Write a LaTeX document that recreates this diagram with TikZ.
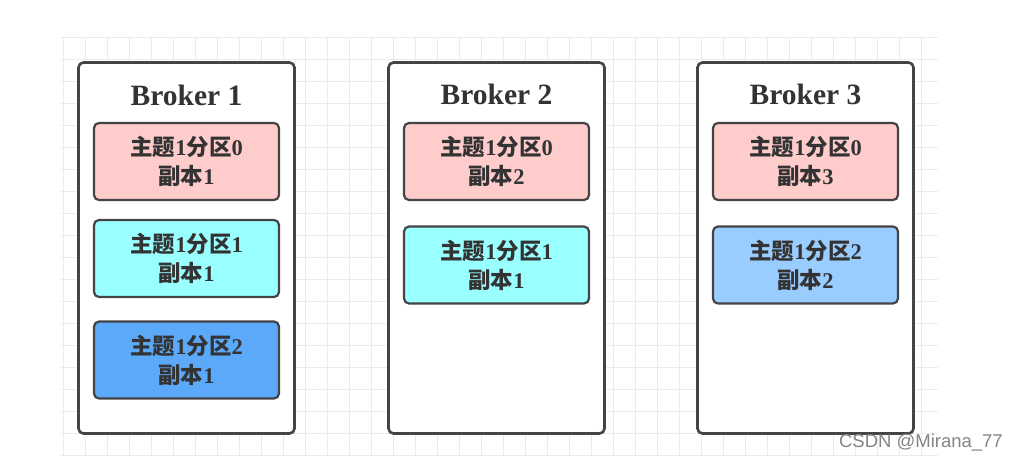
\documentclass[tikz,border=0pt]{standalone}
\usepackage{fontspec}
\setmainfont{Liberation Serif}
\setsansfont{Liberation Sans}
\newfontfamily\cjk{Noto Sans CJK SC}
\definecolor{gridc}{HTML}{EBEBEB}
\definecolor{edgec}{HTML}{444444}
\definecolor{txtc}{HTML}{333333}
\definecolor{pinkc}{HTML}{FFCCCC}
\definecolor{cyanc}{HTML}{99FFFF}
\definecolor{bluec}{HTML}{5CA9FA}
\definecolor{lbluec}{HTML}{99CCFF}
\newcommand\ptext[2]{{\cjk 主题}1{\cjk 分区}#1\\{\cjk 副本}#2}
\tikzset{
  brokerbox/.style={draw=edgec, line width=2.6pt, rounded corners=5pt, fill=white,
    minimum width=216pt, minimum height=371pt, inner sep=0pt},
  titletext/.style={text=txtc, font=\bfseries\fontsize{29.5}{32}\selectfont},
  partbox/.style={draw=edgec, line width=2.2pt, rounded corners=5pt,
    minimum width=185pt, minimum height=77pt, inner sep=0pt, align=center,
    text=txtc, font=\bfseries\fontsize{22.5}{29}\selectfont}
}
\begin{document}
\begin{tikzpicture}[x=1pt,y=-1pt]
\useasboundingbox (0,0) rectangle (1017,459);
\fill[white] (0,0) rectangle (1017,459);
% grid
\foreach \x in {63,85,...,922} \draw[gridc, line width=1pt] (\x,37) -- (\x,455);
\foreach \y in {37,59,...,455} \draw[gridc, line width=1pt] (60,\y) -- (938,\y);
% brokers
\node[brokerbox] (b1) at (186.5,248) {};
\node[brokerbox] (b2) at (496.5,248) {};
\node[brokerbox] (b3) at (805.5,248) {};
\node[titletext] (t1) at (186.5,95) {Broker 1};
\node[titletext] (t2) at (496.5,94) {Broker 2};
\node[titletext] (t3) at (805.5,94) {Broker 3};
% partitions
\node[partbox, fill=pinkc] (p10) at (186.5,161.5) {\ptext{0}{1}};
\node[partbox, fill=cyanc] (p11) at (186.5,258.5) {\ptext{1}{1}};
\node[partbox, fill=bluec] (p12) at (186.5,360) {\ptext{2}{1}};
\node[partbox, fill=pinkc] (p20) at (496.5,161.5) {\ptext{0}{2}};
\node[partbox, fill=cyanc] (p21) at (496.5,265) {\ptext{1}{1}};
\node[partbox, fill=pinkc] (p30) at (805.5,161.5) {\ptext{0}{3}};
\node[partbox, fill=lbluec] (p32) at (805.5,265) {\ptext{2}{2}};
% watermark
\node[anchor=base east, inner sep=0pt, text=black!48, font=\sffamily\fontsize{18.5}{18.5}\selectfont] (wm) at (1003,447) {CSDN @Mirana\_77};
\end{tikzpicture}
\end{document}
